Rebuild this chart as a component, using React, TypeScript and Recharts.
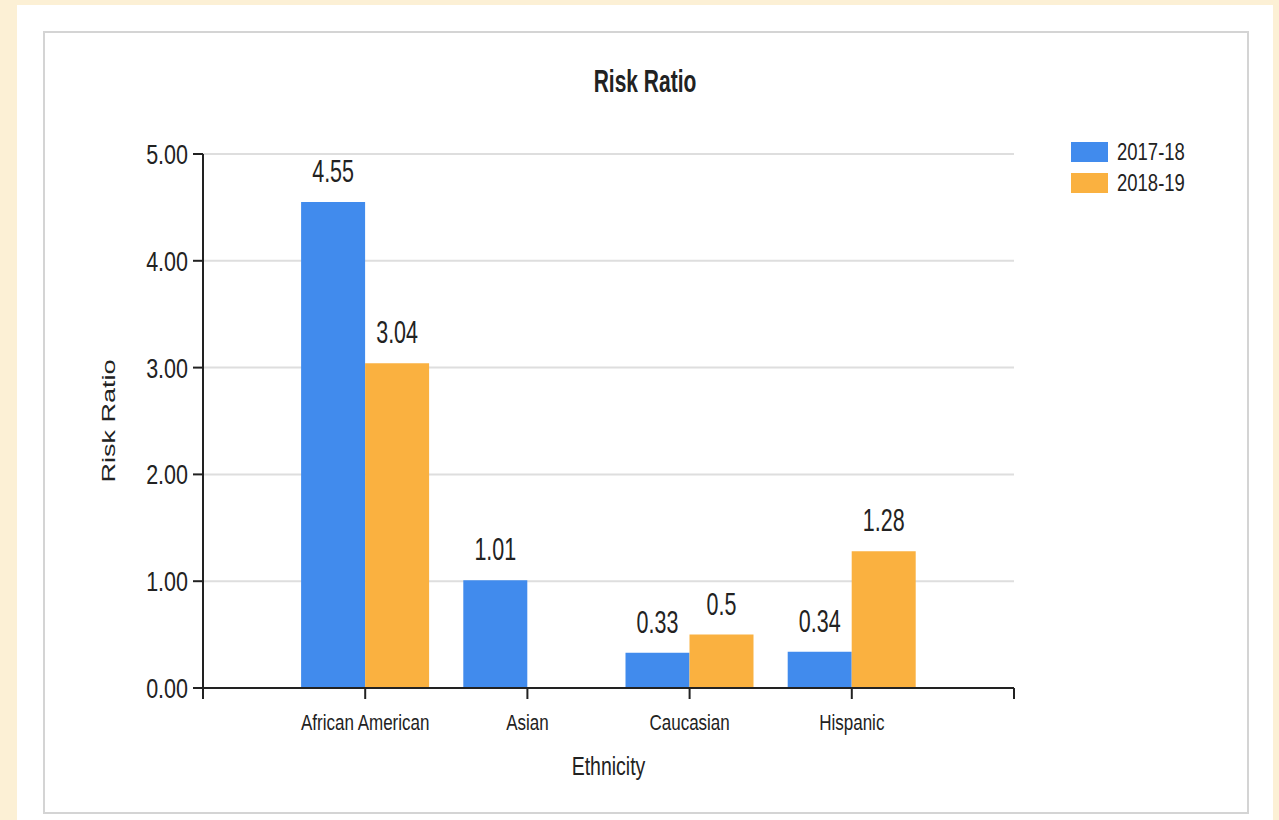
import React from 'react'
import {
  BarChart, Bar, XAxis, YAxis, CartesianGrid, LabelList, Legend, Customized,
} from 'recharts'

// risk ratio by ethnicity, two school years
const categories = ['African American', 'Asian', 'Caucasian', 'Hispanic']
const ratio1718 = [4.55, 1.01, 0.33, 0.34]
const ratio1819: (number | null)[] = [3.04, null, 0.5, 1.28]
const yTicks = [0, 1, 2, 3, 4, 5]
const seriesNames = ['2017-18', '2018-19']

const BLUE = '#418bed'
const ORANGE = '#fab140'
const INK = '#222'
const FONT = '"Liberation Sans", Arial, sans-serif'

const W = 1279
const H = 820

// x is numeric so the axis gets a tick at both ends and one per category
const rows = categories.map((name, i) => ({
  pos: i + 1,
  name,
  y1718: ratio1718[i],
  y1819: ratio1819[i],
}))
const xTicks = Array.from({ length: categories.length + 2 }, (_, i) => i)

type STProps = {
  x: number; y: number; size: number; sy: number
  anchor?: 'start' | 'middle' | 'end'; weight?: string | number
  rotate?: boolean; children: React.ReactNode
}

// tall narrow lettering: stretch along the glyph height (or the run, when rotated)
function StretchText({ x, y, size, sy, anchor = 'middle', weight = 'normal', rotate = false, children }: STProps) {
  const t = rotate
    ? `translate(${x},${y}) rotate(-90) scale(${sy},1)`
    : `translate(${x},${y}) scale(1,${sy})`
  return (
    <text transform={t} x={0} y={0} textAnchor={anchor} fontSize={size} fontWeight={weight}
      fontFamily={FONT} fill={INK}>
      {children}
    </text>
  )
}

const XTick = ({ x, y, payload }: any) => {
  const name = categories[payload.value - 1]
  if (!name) return null
  return <StretchText x={x} y={y + 27} size={17} sy={1.25}>{name}</StretchText>
}

const YTick = ({ x, y, payload }: any) => (
  <StretchText x={x} y={y + 10} size={21.5} sy={1.3} anchor="end">
    {Number(payload.value).toFixed(2)}
  </StretchText>
)

const ValueLabel = ({ x, y, width, value }: any) => {
  if (value == null) return null
  return (
    <StretchText x={x + width / 2} y={y - 20} size={21.5} sy={1.45}>{String(value)}</StretchText>
  )
}

const LegendBox = () => (
  <div style={{ fontFamily: FONT, color: INK }}>
    {seriesNames.map((s, i) => (
      <div key={s} style={{ display: 'flex', alignItems: 'center', height: 20, marginBottom: 11 }}>
        <span style={{ width: 37, height: 20, background: i === 0 ? BLUE : ORANGE, display: 'inline-block' }} />
        <span style={{ marginLeft: 9, fontSize: 18.5, lineHeight: '20px', display: 'inline-block', transform: 'scaleY(1.28)' }}>
          {s}
        </span>
      </div>
    ))}
  </div>
)

const Title = () => (
  <StretchText x={645} y={92} size={21} sy={1.46} weight="bold">Risk Ratio</StretchText>
)

export default function App() {
  return (
    <div style={{ position: 'fixed', left: 0, top: 0, width: W, height: H, background: '#fcf0d5', overflow: 'hidden' }}>
      <div style={{ position: 'absolute', left: 17, top: 5, width: 1256, height: 830, background: '#fff' }} />
      <div style={{
        position: 'absolute', left: 43, top: 31, width: 1206, height: 783,
        border: '2px solid #d4d4d4', boxSizing: 'border-box', background: '#fff',
      }} />
      <div style={{ position: 'absolute', left: 0, top: 0 }}>
        <BarChart width={W} height={H} data={rows} barGap={0} barCategoryGap={17}
          margin={{ top: 154, right: 265, bottom: 72, left: 103 }}>
          <CartesianGrid vertical={false} stroke="#dedede" strokeWidth={2} />
          <XAxis dataKey="pos" type="number" domain={[0, categories.length + 1]} ticks={xTicks}
            interval={0} height={60} tickSize={11} tickMargin={4}
            axisLine={{ stroke: INK, strokeWidth: 2 }} tickLine={{ stroke: INK, strokeWidth: 2 }}
            tick={<XTick />}
            label={{
              content: ({ viewBox }: any) => (
                <StretchText x={viewBox.x + viewBox.width / 2} y={viewBox.y + 87} size={19.5} sy={1.28}>
                  Ethnicity
                </StretchText>
              ),
            }} />
          <YAxis domain={[0, 5]} ticks={yTicks} width={100} tickSize={10} tickMargin={5}
            axisLine={{ stroke: INK, strokeWidth: 2 }} tickLine={{ stroke: INK, strokeWidth: 2 }}
            tick={<YTick />}
            label={{
              content: ({ viewBox }: any) => (
                <StretchText x={viewBox.x + 12} y={viewBox.y + viewBox.height / 2} size={18} sy={1.5} rotate>
                  Risk Ratio
                </StretchText>
              ),
            }} />
          <Legend layout="vertical" align="center" verticalAlign="middle" content={<LegendBox />}
            wrapperStyle={{ left: 1071, top: 142, width: 140, right: 'auto', bottom: 'auto' }} />
          <Bar dataKey="y1718" name={seriesNames[0]} fill={BLUE} isAnimationActive={false}>
            <LabelList dataKey="y1718" content={<ValueLabel />} />
          </Bar>
          <Bar dataKey="y1819" name={seriesNames[1]} fill={ORANGE} isAnimationActive={false}>
            <LabelList dataKey="y1819" content={<ValueLabel />} />
          </Bar>
          <Customized component={<Title />} />
        </BarChart>
      </div>
    </div>
  )
}
